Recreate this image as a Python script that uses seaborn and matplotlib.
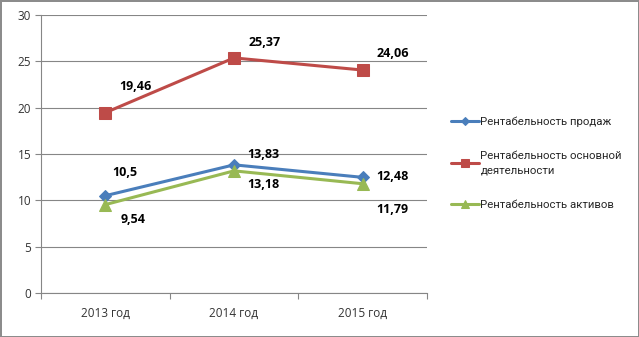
import matplotlib
matplotlib.use("Agg")
import matplotlib.pyplot as plt
import seaborn as sns
import pandas as pd
from matplotlib.ticker import FixedLocator

years = ["2013 год", "2014 год", "2015 год"]
sales = [10.5, 13.83, 12.48]
core = [19.46, 25.37, 24.06]
assets = [9.54, 13.18, 11.79]
series_names = ["Рентабельность продаж", "Рентабельность основной\nдеятельности", "Рентабельность активов"]
value_labels = {
    0: ["10,5", "13,83", "12,48"],
    1: ["19,46", "25,37", "24,06"],
    2: ["9,54", "13,18", "11,79"],
}

sns.set_theme(style="white")
plt.rcParams['font.family'] = ['Open Sans', 'DejaVu Sans']

fig = plt.figure(figsize=(6.39, 3.37), dpi=100)
fig.patch.set_facecolor("white")
fig.patch.set_edgecolor("#8c8c8c")
fig.patch.set_linewidth(2)
ax = fig.add_axes([41/639, 1-293/337, (427-41)/639, (293-15)/337])

colors = ["#4A7EBB", "#BE4B48", "#98B954"]
markers = ["D", "s", "^"]
msizes = [6, 8, 8]
data = [sales, core, assets]
offsets = {
    0: [(20, 23), (29, 10), (30, 1)],
    1: [(30, 26), (31, 15), (30, 17)],
    2: [(28, -15), (29, -14), (30, -26)],
}

for i, vals in enumerate(data):
    df = pd.DataFrame({"x": range(len(years)), "y": vals})
    sns.lineplot(data=df, x="x", y="y", ax=ax, color=colors[i], marker=markers[i],
                 markersize=msizes[i], markeredgecolor=colors[i], linewidth=2.2,
                 label=series_names[i])
    for j, v in enumerate(vals):
        ax.annotate(value_labels[i][j], (j, v), xytext=offsets[i][j], textcoords="offset pixels",
                    ha="center", va="center", fontsize=9, fontweight="bold", color="black")

ax.set_xlim(-0.5, 2.5)
ax.set_ylim(0, 30)
ax.set_yticks([0, 5, 10, 15, 20, 25, 30])
ax.set_xticks(range(len(years)))
ax.set_xticklabels(years)
ax.xaxis.set_minor_locator(FixedLocator([-0.5, 0.5, 1.5, 2.5]))
ax.tick_params(axis="x", which="major", length=0, pad=10, labelsize=8.5, labelcolor="#333333")
ax.tick_params(axis="x", which="minor", length=4, color="#868686", width=0.8, direction="out", bottom=True)
ax.tick_params(axis="y", which="major", length=4, color="#868686", width=0.8, direction="out", left=True,
               labelsize=8.5, labelcolor="#333333", pad=3)
ax.set_xlabel("")
ax.set_ylabel("")
ax.grid(axis="y", color="#868686", linewidth=0.8)
ax.set_axisbelow(True)
for s in ["top", "right"]:
    ax.spines[s].set_visible(False)
for s in ["left", "bottom"]:
    ax.spines[s].set_color("#868686")
    ax.spines[s].set_linewidth(0.8)

ax.get_legend().remove()
handles, labels = ax.get_legend_handles_labels()
leg = fig.legend(handles, labels, loc="center left", bbox_to_anchor=(441/639, 1-163/337), frameon=False,
                 prop={"family": ["Roboto", "DejaVu Sans"], "size": 8.2},
                 labelcolor="#262626", handlelength=2.4, handletextpad=0.15,
                 labelspacing=2.1, markerscale=0.7)
for t in leg.get_texts():
    t.set_linespacing(1.6)

fig.savefig("out.png", dpi=100)
